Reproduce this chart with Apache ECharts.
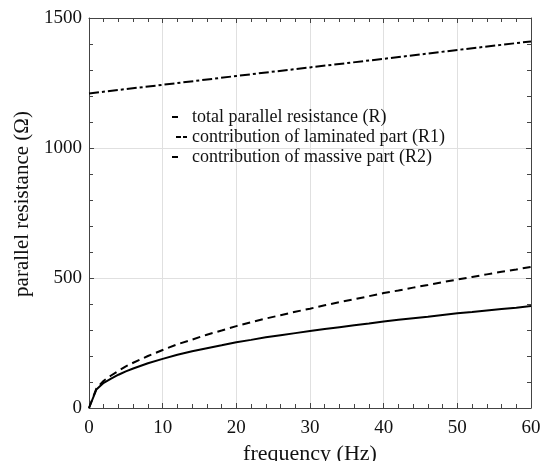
<!DOCTYPE html>
<html>
<head>
<meta charset="utf-8">
<script src="https://cdn.jsdelivr.net/npm/echarts@6/dist/echarts.min.js"></script>
<style>
html, body { margin: 0; padding: 0; background: #fff; }
#chartDiv { width: 544px; height: 461px; }
</style>
</head>
<body>
<div id="chartDiv"></div>
<script>
// frequency (Hz)
var freq = [0, 1, 2, 3, 4, 5, 6, 8, 10, 12, 14, 16, 18, 20, 22, 24, 26, 28, 30,
	32, 34, 36, 38, 40, 42, 44, 46, 48, 50, 52, 54, 56, 58, 60];
// total parallel resistance R
var rTotal = [0, 71, 97, 113, 128, 141, 152, 172, 189, 205, 218, 230, 241, 253, 262, 272, 280, 288, 296,
	304, 311, 318, 325, 333, 339, 345, 351, 358, 364, 369, 375, 381, 386, 392];
// laminated part R1
var rLam = [0, 75, 105, 125, 143, 160, 174, 200, 223, 245, 263, 282, 298, 315, 330, 344, 357, 370, 382,
	395, 407, 418, 430, 442, 452, 463, 473, 484, 494, 504, 514, 524, 533, 543];
// massive part R2
var rMassFreq = [0, 10, 20, 30, 40, 50, 60];
var rMass = [1210, 1243, 1277, 1310, 1343, 1377, 1410];

var yTicks = ['0', '500', '1000', '1500'];

function pairs(xs, ys) {
	var out = [];
	for (var i = 0; i < xs.length; i++) {
		out.push([xs[i], ys[i]]);
	}
	return out;
}

var serif = '"Liberation Serif", "DejaVu Serif", serif';
var axisColor = '#444';

// legend handles: the zero-size subpaths pin the box to 16x3
var iconShort = 'path://M0,0L0,0Z M16,3L16,3Z M1,0.5H7V2.5H1Z';
var iconDash = 'path://M0,0L0,0Z M16,3L16,3Z M5,0.5H10V2.5H5Z M12,0.5H16V2.5H12Z';

var chart = echarts.init(document.getElementById('chartDiv'));

var tickCommon = { show: true, inside: true, length: 5, lineStyle: { color: axisColor, width: 1 } };
var minorCommon = { show: true, splitNumber: 5, length: 4, lineStyle: { color: axisColor, width: 1 } };

chart.setOption({
	animation: false,
	backgroundColor: '#fff',
	grid: { left: 89, right: 13, top: 18, bottom: 53, outerBoundsMode: 'none', containLabel: false },
	legend: {
		left: 171,
		top: 107,
		padding: 0,
		orient: 'vertical',
		itemWidth: 16,
		itemHeight: 3,
		itemGap: 0,
		textStyle: { fontFamily: serif, fontSize: 18, lineHeight: 20, color: '#111' },
		data: [
			{ name: 'total parallel resistance (R)', icon: iconShort },
			{ name: 'contribution of laminated part (R1)', icon: iconDash },
			{ name: 'contribution of massive part (R2)', icon: iconShort }
		]
	},
	xAxis: [{
		type: 'value',
		min: 0, max: 60, interval: 10,
		name: 'frequency (Hz)',
		nameLocation: 'middle',
		nameGap: 33,
		nameTextStyle: { fontFamily: serif, fontSize: 22, color: '#111' },
		axisLine: { show: true, lineStyle: { color: axisColor, width: 1 } },
		axisTick: tickCommon,
		minorTick: minorCommon,
		axisLabel: { fontFamily: serif, fontSize: 19, color: '#111', margin: 11 },
		splitLine: { show: true, lineStyle: { color: '#e0e0e0', width: 1 } }
	}, {
		type: 'value',
		position: 'top',
		min: 0, max: 60, interval: 10,
		axisLine: { show: true, onZero: false, lineStyle: { color: axisColor, width: 1 } },
		axisTick: tickCommon,
		minorTick: minorCommon,
		axisLabel: { show: false },
		splitLine: { show: false }
	}],
	yAxis: [{
		type: 'value',
		min: 0, max: 1500, interval: 500,
		name: 'parallel resistance (Ω)',
		nameLocation: 'middle',
		nameGap: 55,
		nameTextStyle: { fontFamily: serif, fontSize: 21, color: '#111', padding: [0, 0, 0, 18] },
		axisLine: { show: true, lineStyle: { color: axisColor, width: 1 } },
		axisTick: tickCommon,
		minorTick: minorCommon,
		axisLabel: {
			fontFamily: serif, fontSize: 19, color: '#111', margin: 7,
			formatter: function (v) { return yTicks[Math.round(v / 500)]; }
		},
		splitLine: { show: true, lineStyle: { color: '#e0e0e0', width: 1 } }
	}, {
		type: 'value',
		position: 'right',
		min: 0, max: 1500, interval: 500,
		axisLine: { show: true, onZero: false, lineStyle: { color: axisColor, width: 1 } },
		axisTick: tickCommon,
		minorTick: minorCommon,
		axisLabel: { show: false },
		splitLine: { show: false }
	}],
	series: [{
		name: 'total parallel resistance (R)',
		type: 'line',
		showSymbol: false,
		symbol: 'none',
		color: '#000',
		lineStyle: { color: '#000', width: 2, type: 'solid' },
		data: pairs(freq, rTotal)
	}, {
		name: 'contribution of laminated part (R1)',
		type: 'line',
		showSymbol: false,
		symbol: 'none',
		color: '#000',
		lineStyle: { color: '#000', width: 2, type: [8, 5] },
		data: pairs(freq, rLam)
	}, {
		name: 'contribution of massive part (R2)',
		type: 'line',
		showSymbol: false,
		symbol: 'none',
		color: '#000',
		lineStyle: { color: '#000', width: 2, type: [10, 3, 3, 3] },
		data: pairs(rMassFreq, rMass)
	}]
});
</script>
</body>
</html>
